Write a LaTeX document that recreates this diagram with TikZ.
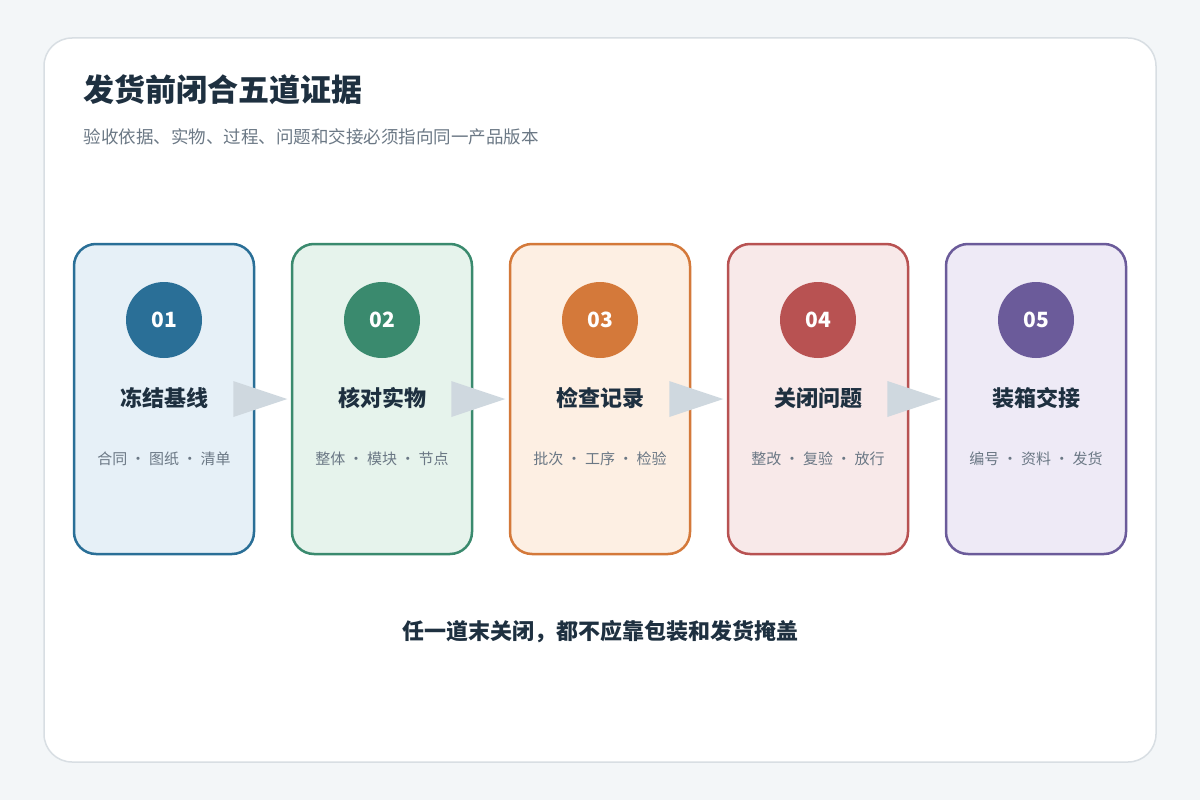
\documentclass[tikz,border=0pt]{standalone}
\usepackage{fontspec}
\setmainfont{Noto Sans CJK SC}
\definecolor{bg}{HTML}{F3F6F8}
\definecolor{frame}{HTML}{D8DEE3}
\definecolor{ink}{HTML}{1E3040}
\definecolor{sub}{HTML}{6B7885}
\definecolor{arr}{HTML}{CFD8DF}
\definecolor{cA}{HTML}{2A6F97}\definecolor{fA}{HTML}{E6F0F7}
\definecolor{cB}{HTML}{3A8A6E}\definecolor{fB}{HTML}{E6F3EC}
\definecolor{cC}{HTML}{D4793A}\definecolor{fC}{HTML}{FDEFE3}
\definecolor{cD}{HTML}{B85252}\definecolor{fD}{HTML}{F8E9E9}
\definecolor{cE}{HTML}{6B5B9A}\definecolor{fE}{HTML}{EEEAF6}
\begin{document}
\begin{tikzpicture}[x=1pt,y=-1pt,
 card/.style={draw=#1,line width=2.5pt,rounded corners=22pt,minimum width=180pt,minimum height=310pt,inner sep=0pt},
 num/.style={circle,fill=#1,minimum size=76pt,inner sep=0pt,text=white,font=\fontsize{21}{21}\selectfont\bfseries},
 lab/.style={text=ink,font=\fontsize{22}{22}\selectfont\bfseries},
 det/.style={text=sub,font=\fontsize{15}{15}\selectfont}]
\fill[bg] (0,0) rectangle (1200,800);
\useasboundingbox (0,0) rectangle (1200,800);
\draw[frame,fill=white,line width=1.5pt,rounded corners=28pt] (44,38) rectangle (1156,762);
\node[anchor=west,text=ink,font=\fontsize{31}{31}\selectfont\bfseries] (title) at (80,90) {发货前闭合五道证据};
\node[anchor=west,text=sub,font=\fontsize{17.5}{17.5}\selectfont] (subt) at (80,137) {验收依据、实物、过程、问题和交接必须指向同一产品版本};
\foreach \i/\x/\c/\n/\l/\d in {1/164/A/01/冻结基线/合同 · 图纸 · 清单,2/382/B/02/核对实物/整体 · 模块 · 节点,3/600/C/03/检查记录/批次 · 工序 · 检验,4/818/D/04/关闭问题/整改 · 复验 · 放行,5/1036/E/05/装箱交接/编号 · 资料 · 发货}{
 \node[card=c\c,fill=f\c] (k\i) at (\x,399) {};
 \node[num=c\c] (n\i) at (\x,320) {\n};
 \node[lab] (l\i) at (\x,398) {\l};
 \node[det] (d\i) at (\x,459) {\d};
}
\foreach \a/\b in {1/2,2/3,3/4,4/5}{
 \coordinate (t\a) at ([xshift=32pt]k\a.east);
 \fill[arr] ([xshift=-22pt,yshift=-18pt]k\a.east) -- (t\a) -- ([xshift=-22pt,yshift=18pt]k\a.east) -- cycle;
}
\node[text=ink,font=\fontsize{22}{22}\selectfont\bfseries] (foot) at (600,632) {任一道末关闭，都不应靠包装和发货掩盖};
\end{tikzpicture}
\end{document}
